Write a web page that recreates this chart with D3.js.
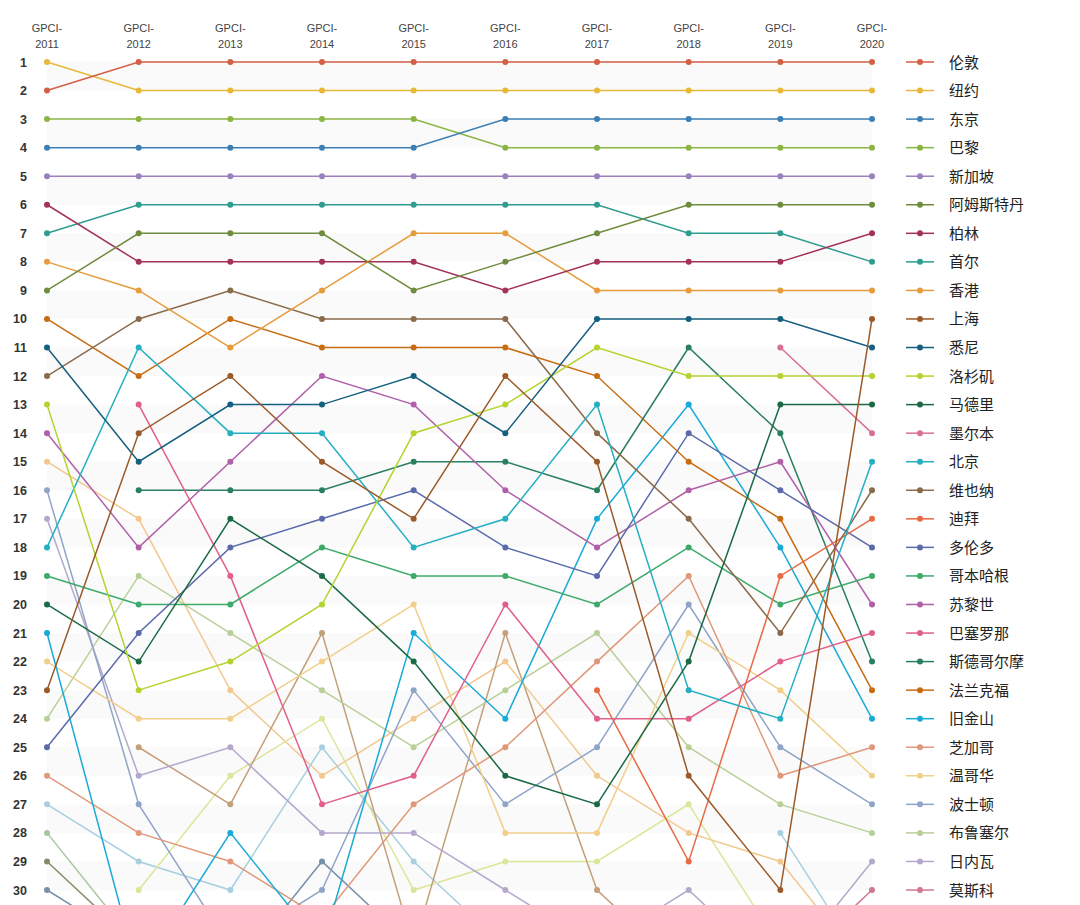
<!DOCTYPE html>
<html><head><meta charset="utf-8">
<script src="https://cdn.jsdelivr.net/npm/d3@7"></script>
<style>body{margin:0;background:#fff}svg{display:block}</style>
</head><body><svg id="c" width="1080" height="905"></svg>
<script>
const years = ["2011","2012","2013","2014","2015","2016","2017","2018","2019","2020"];
const ranks = d3.range(1,31);
const cities = ["伦敦","纽约","东京","巴黎","新加坡","阿姆斯特丹","柏林","首尔","香港","上海","悉尼","洛杉矶","马德里","墨尔本","北京","维也纳","迪拜","多伦多","哥本哈根","苏黎世","巴塞罗那","斯德哥尔摩","法兰克福","旧金山","芝加哥","温哥华","波士顿","布鲁塞尔","日内瓦","莫斯科"];
const colors = ["#d35f45","#e8b838","#3a7fb5","#8ab543","#9b80be","#6f8b3e","#a2325a","#2e9c8e","#e69c3c","#9b5a2a","#155f7f","#b3d42e","#1b6a45","#d8708f","#25afc3","#8a6a4a","#e86a45","#5a6aaa","#3daa6a","#b060a8","#e0608a","#2a7f5f","#c86c12","#1aaad8","#e0987a","#f0d08a","#90a4c8","#b8d098","#b4a8cc","#d07890"];
const N = null;
const rankData = [
 [2,1,1,1,1,1,1,1,1,1],
 [1,2,2,2,2,2,2,2,2,2],
 [4,4,4,4,4,3,3,3,3,3],
 [3,3,3,3,3,4,4,4,4,4],
 [5,5,5,5,5,5,5,5,5,5],
 [9,7,7,7,9,8,7,6,6,6],
 [6,8,8,8,8,9,8,8,8,7],
 [7,6,6,6,6,6,6,7,7,8],
 [8,9,11,9,7,7,9,9,9,9],
 [23,14,12,15,17,12,15,26,30,10],
 [11,15,13,13,12,14,10,10,10,11],
 [13,23,22,20,14,13,11,12,12,12],
 [20,22,17,19,22,26,27,22,13,13],
 [N,N,N,N,N,N,N,N,11,14],
 [18,11,14,14,18,17,13,23,24,15],
 [12,10,9,10,10,10,14,17,21,16],
 [N,N,N,N,N,N,23,29,19,17],
 [25,21,18,17,16,18,19,14,16,18],
 [19,20,20,18,19,19,20,18,20,19],
 [14,18,15,12,13,16,18,16,15,20],
 [N,13,19,27,26,20,24,24,22,21],
 [N,16,16,16,15,15,16,11,14,22],
 [10,12,10,11,11,11,12,15,17,23],
 [21,33,28,32,21,24,17,13,18,24],
 [26,28,29,31,27,25,22,19,26,25],
 [22,24,24,22,20,28,28,21,23,26],
 [16,27,32,30,23,27,25,20,25,27],
 [24,19,21,23,25,23,21,25,27,28],
 [17,26,25,28,28,30,32,30,33,29],
 [N,N,N,N,N,N,N,N,33,30]
];
// cities ranked outside the top 30 in 2020 (not in legend)
const extraColors = ["#f2c890","#a8cfe0","#dce59a","#c4a07a","#a8c8a0","#8a8a6a","#7890a8"];
const extraData = [
 [15,17,23,26,24,22,26,28,29,33],
 [27,29,30,25,29,32,N,N,28,33],
 [N,30,26,24,30,29,29,27,32,N],
 [N,25,27,21,32,21,30,33,N,N],
 [28,32,N,N,N,N,N,N,N,N],
 [29,32,N,N,N,N,N,N,N,N],
 [30,32,33,29,32,N,N,N,N,N]
];

const svg = d3.select("#c");
const x = d3.scalePoint().domain(years).range([47,872]);
const y = d3.scaleLinear().domain([1,30]).range([62,890]);
const step = y(2)-y(1);

svg.append("g").selectAll("rect").data(ranks.filter(r=>r%2===1)).join("rect")
 .attr("x",x("2011")).attr("width",x("2020")-x("2011"))
 .attr("y",r=>y(r)).attr("height",step).attr("fill","#fafafa");

const hdr = svg.append("g").attr("font-family","Liberation Sans, Arial, sans-serif").attr("font-size",11).attr("fill","#444").attr("text-anchor","middle");
years.forEach(yr=>{
  hdr.append("text").attr("x",x(yr)).attr("y",32).text("GPCI-");
  hdr.append("text").attr("x",x(yr)).attr("y",48).text(yr);
});
svg.append("g").attr("font-family","Liberation Sans, Arial, sans-serif").attr("font-size",12.5).attr("font-weight","bold").attr("fill","#333").attr("text-anchor","end")
 .selectAll("text").data(ranks).join("text").attr("x",27).attr("y",r=>y(r)+4.5).text(r=>r);

const line = d3.line().defined(v=>v!==null).x((v,i)=>x(years[i])).y(v=>y(v));
function drawSeries(data, cols){
  const g = svg.append("g");
  data.forEach((s,k)=>{
    g.append("path").attr("d",line(s)).attr("fill","none").attr("stroke",cols[k]).attr("stroke-width",1.5);
    g.selectAll(null).data(s.map((v,i)=>({v,i})).filter(d=>d.v!==null)).join("circle")
     .attr("cx",d=>x(years[d.i])).attr("cy",d=>y(d.v)).attr("r",3).attr("fill",cols[k]);
  });
}
drawSeries(extraData, extraColors);
drawSeries(rankData.slice().reverse(), colors.slice().reverse());

const lg = svg.append("g");
cities.forEach((c,i)=>{
  const yy = y(i+1);
  lg.append("line").attr("x1",906).attr("x2",934).attr("y1",yy).attr("y2",yy).attr("stroke",colors[i]).attr("stroke-width",1.5);
  lg.append("circle").attr("cx",920).attr("cy",yy).attr("r",3).attr("fill",colors[i]);
  lg.append("text").attr("x",949).attr("y",yy+5.5).attr("font-family","Noto Sans CJK SC").attr("font-size",15).attr("fill","#222").text(c);
});
</script></body></html>
